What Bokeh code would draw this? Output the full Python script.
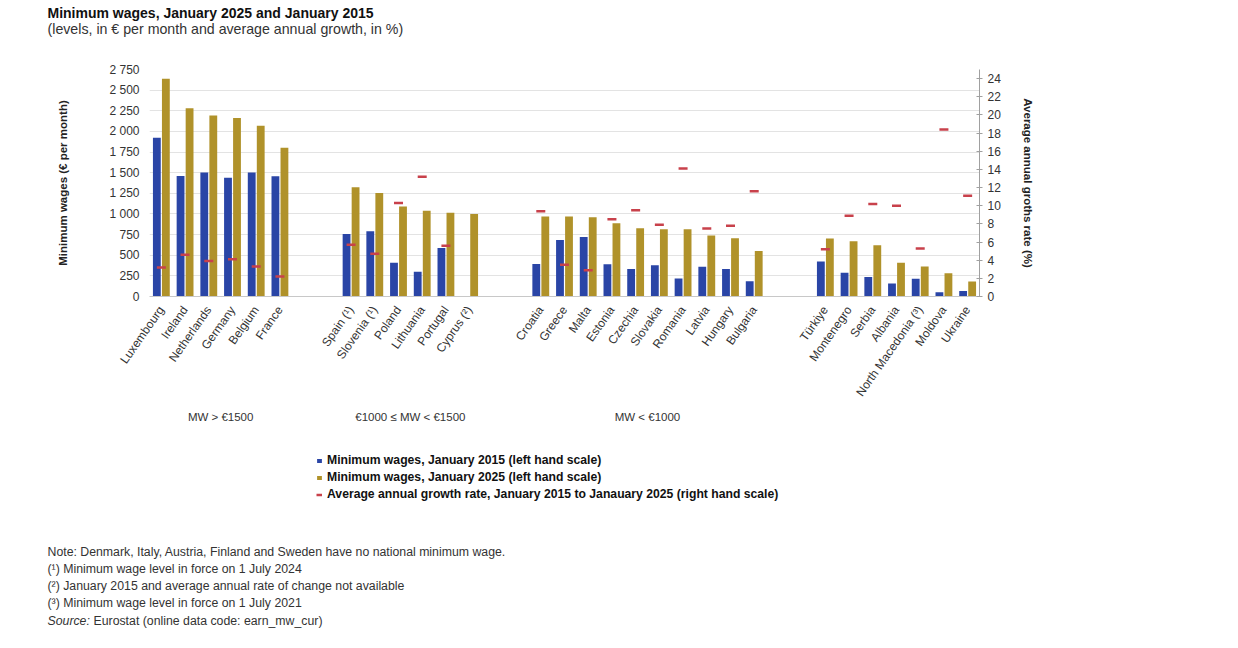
import math

from bokeh.plotting import figure
from bokeh.layouts import column
from bokeh.models import (FactorRange, Range1d, LinearAxis, FixedTicker, CustomJSTickFormatter,
                          Label, Legend, LegendItem, ColumnDataSource)
from bokeh.transform import dodge
from bokeh.embed import file_html
from bokeh.resources import INLINE

groups = ["MW > €1500", "€1000 ≤ MW < €1500", "MW < €1000", " "]
countries = [
    ["Luxembourg", "Ireland", "Netherlands", "Germany", "Belgium", "France"],
    ["Spain (¹)", "Slovenia (¹)", "Poland", "Lithuania", "Portugal", "Cyprus (²)"],
    ["Croatia", "Greece", "Malta", "Estonia", "Czechia", "Slovakia", "Romania", "Latvia",
     "Hungary", "Bulgaria"],
    ["Türkiye", "Montenegro", "Serbia", "Albania", "North Macedonia (³)", "Moldova", "Ukraine"],
]
mw_2015 = [
    [1922, 1460, 1502, 1440, 1502, 1458],
    [756, 790, 410, 300, 589, float("nan")],
    [395, 684, 720, 390, 332, 380, 218, 360, 333, 184],
    [424, 288, 235, 157, 214, 52, 68],
]
mw_2025 = [
    [2638, 2282, 2193, 2161, 2070, 1802],
    [1323, 1254, 1091, 1038, 1015, 1000],
    [970, 968, 961, 886, 826, 816, 814, 740, 707, 551],
    [704, 670, 622, 408, 363, 283, 182],
]
growth = [
    [3.2, 4.6, 3.9, 4.1, 3.3, 2.2],
    [5.7, 4.7, 10.3, 13.2, 5.6, float("nan")],
    [9.4, 3.5, 2.9, 8.5, 9.5, 7.9, 14.1, 7.5, 7.8, 11.6],
    [5.2, 8.9, 10.2, 10.0, 5.3, 18.4, 11.1],
]
left_ticks = list(range(0, 2751, 250))
right_ticks = list(range(0, 25, 2))

title = "Minimum wages, January 2025 and January 2015"
subtitle = "(levels, in € per month and average annual growth, in %)"
legend_labels = [
    "Minimum wages, January 2015 (left hand scale)",
    "Minimum wages, January 2025 (left hand scale)",
    "Average annual growth rate, January 2015 to Janauary 2025 (right hand scale)",
]
notes = [
    "Note: Denmark, Italy, Austria, Finland and Sweden have no national minimum wage.",
    "(¹) Minimum wage level in force on 1 July 2024",
    "(²) January 2015 and average annual rate of change not available",
    "(³) Minimum wage level in force on 1 July 2021",
]
source_text = "Eurostat (online data code: earn_mw_cur)"

BLUE = "#2A45A6"
GOLD = "#B0922A"
RED = "#C8414B"
FONT = "Liberation Sans"
TXT = "#333333"

W = 1222
HEAD_H, MAIN_H, FOOT_H = 58, 382, 200


def blank_fig(h):
    f = figure(width=W, height=h, output_backend="svg", toolbar_location=None, title=None,
               x_range=Range1d(0, W), y_range=Range1d(h, 0),
               x_axis_type=None, y_axis_type=None, min_border=0, frame_align=False)
    f.outline_line_color = None
    f.xgrid.grid_line_color = None
    f.ygrid.grid_line_color = None
    return f


def add_text(f, text, px, py, size, style="normal", color=TXT, baseline="middle"):
    f.add_layout(Label(x=px, y=py, text=text, text_font=FONT, text_font_size=size,
                       text_font_style=style, text_color=color, text_baseline=baseline))


# header
head = blank_fig(HEAD_H)
add_text(head, title, 47, 12, "14px", "bold", "#111111")
add_text(head, subtitle, 47, 28.5, "14.2px")

# main chart
x = [(g, c) for g, cs in zip(groups, countries) for c in cs]
src = ColumnDataSource(dict(
    x=x,
    v15=[v for vs in mw_2015 for v in vs],
    v25=[v for vs in mw_2025 for v in vs],
    gr=[v for vs in growth for v in vs],
))

p = figure(width=W, height=MAIN_H, output_backend="svg", toolbar_location=None, title=None,
           x_range=FactorRange(*x, group_padding=2.0, range_padding=0),
           y_range=Range1d(0, 2750), frame_align=False,
           min_border_left=149, min_border_right=W - 979, min_border_top=11, min_border_bottom=144)
p.extra_y_ranges = {"right": Range1d(0, 25)}
p.outline_line_color = None

p.vbar(x=dodge("x", -0.19, range=p.x_range), top="v15", width=0.33, source=src,
       fill_color=BLUE, line_color=None)
p.vbar(x=dodge("x", 0.19, range=p.x_range), top="v25", width=0.33, source=src,
       fill_color=GOLD, line_color=None)
p.scatter(x="x", y="gr", source=src, marker="dash", size=9, line_color=RED, line_width=2.5,
          y_range_name="right")

p.xgrid.grid_line_color = None
p.ygrid.grid_line_color = "#e3e3e3"
p.ygrid.ticker = FixedTicker(ticks=left_ticks)

ya = p.yaxis[0]
ya.ticker = FixedTicker(ticks=left_ticks)
ya.formatter = CustomJSTickFormatter(code="return tick.toString().replace(/\\B(?=(\\d{3})+(?!\\d))/g, ' ');")
ya.axis_line_color = None
ya.major_tick_line_color = None
ya.minor_tick_line_color = None
ya.major_label_standoff = 4
ya.major_label_text_font = FONT
ya.major_label_text_font_size = "12px"
ya.major_label_text_color = TXT
ya.axis_label = "Minimum wages (€ per month)"
ya.axis_label_text_font = FONT
ya.axis_label_text_font_size = "11.5px"
ya.axis_label_text_font_style = "bold"
ya.axis_label_text_color = "#222222"
ya.axis_label_standoff = 37

ra = LinearAxis(y_range_name="right", ticker=FixedTicker(ticks=right_ticks))
ra.axis_line_color = "#a0a0a0"
ra.major_tick_line_color = "#a0a0a0"
ra.major_tick_in = 3
ra.major_tick_out = 3
ra.minor_tick_line_color = None
ra.major_label_standoff = 5
ra.major_label_text_font = FONT
ra.major_label_text_font_size = "12px"
ra.major_label_text_color = TXT
ra.axis_label = "Average annual groths rate (%)"
ra.axis_label_text_font = FONT
ra.axis_label_text_font_size = "11.5px"
ra.axis_label_text_font_style = "bold"
ra.axis_label_text_color = "#222222"
ra.axis_label_standoff = 18
p.add_layout(ra, "right")

xa = p.xaxis[0]
xa.axis_line_color = "#c8c8c8"
xa.major_tick_line_color = None
xa.minor_tick_line_color = None
xa.major_label_orientation = math.radians(55)
xa.major_label_text_font = FONT
xa.major_label_text_font_size = "12px"
xa.major_label_text_color = TXT
xa.group_text_font = FONT
xa.group_text_font_size = "11.5px"
xa.group_text_font_style = "normal"
xa.group_text_color = TXT
xa.separator_line_color = None

# footer: legend (with stand-in glyphs that draw nothing) and notes
foot = blank_fig(FOOT_H)
nan = [float("nan")]
k15 = foot.vbar(x=nan, top=nan, width=1, fill_color=BLUE, line_color=None)
k25 = foot.vbar(x=nan, top=nan, width=1, fill_color=GOLD, line_color=None)
kgr = foot.line(x=nan, y=nan, line_color=RED, line_width=2.5)
legend = Legend(items=[LegendItem(label=t, renderers=[r])
                       for t, r in zip(legend_labels, [k15, k25, kgr])],
                location=(316, FOOT_H - 15 - 46))
legend.label_text_font = FONT
legend.label_text_font_size = "12.2px"
legend.label_text_font_style = "bold"
legend.label_text_color = "#111111"
legend.glyph_width = 6
legend.glyph_height = 5
legend.label_height = 13
legend.label_standoff = 5
legend.spacing = 3
legend.padding = 0
legend.margin = 0
legend.border_line_color = None
legend.background_fill_alpha = 0
foot.add_layout(legend, "center")

for i, t in enumerate(notes):
    add_text(foot, t, 47, 111 + i * 17.3, "12.3px")
add_text(foot, "Source:", 47, 111 + 4 * 17.3, "12.3px", "italic")
add_text(foot, source_text, 93, 111 + 4 * 17.3, "12.3px")

layout = column(head, p, foot, spacing=0)
open("out.html", "w").write(file_html(layout, INLINE))
